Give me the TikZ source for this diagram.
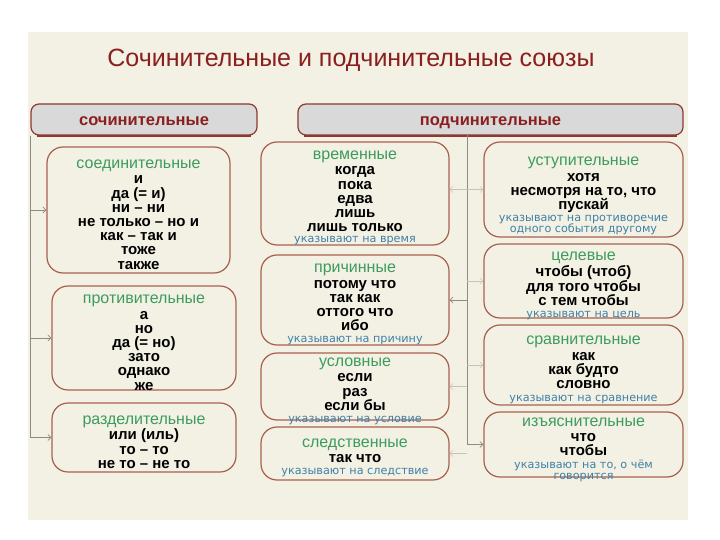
\documentclass[tikz,border=0pt]{standalone}
\usepackage{fontspec}
\setmainfont{Liberation Sans}
\newfontfamily\notefont{DejaVu Sans}
\usetikzlibrary{arrows.meta}
\definecolor{bgc}{HTML}{F3F1E3}
\definecolor{titlec}{HTML}{8B1E1E}
\definecolor{barfill}{HTML}{D9D9D9}
\definecolor{barline}{HTML}{8B3A32}
\definecolor{boxc}{HTML}{A8604E}
\definecolor{hgreen}{HTML}{3C9B5F}
\definecolor{nblue}{HTML}{3F80A8}
\definecolor{connc}{HTML}{8C8C84}
\definecolor{faintc}{HTML}{C4C4BC}
\newcommand\kindtxt[1]{{\color{hgreen}\mdseries\fontsize{16}{16}\selectfont #1}}
\newcommand\hinttxt[1]{{\color{nblue}\mdseries\notefont\fontsize{11.2}{11.2}\selectfont #1}}
\AtBeginDocument{\lineskiplimit=-20pt\relax}
\begin{document}
\begin{tikzpicture}[x=1pt,y=-1pt,
  bar/.style={draw=barline, line width=1.2pt, fill=barfill, rounded corners=8pt,
    minimum height=31pt, inner sep=0pt},
  bartext/.style={text=titlec, inner sep=0pt, text height=12pt, text depth=3.5pt,
    font=\bfseries\fontsize{16.5}{16.5}\selectfont},
  kbox/.style={draw=boxc, line width=1.2pt, fill=bgc, rounded corners=16pt, inner sep=0pt},
  ktext/.style={align=center, inner sep=0pt, font=\bfseries\fontsize{15}{14.2}\selectfont},
  conn/.style={draw=connc, line width=0.7pt},
  faint/.style={draw=faintc, line width=0.6pt},
  tip/.style={-{Straight Barb[length=3pt,width=6pt]}},
  tips/.style={{Straight Barb[length=3pt,width=6pt]}-{Straight Barb[length=3pt,width=6pt]}}]
\useasboundingbox (0,0) rectangle (720,540);
\fill[white] (0,0) rectangle (720,540);
\fill[bgc] (28,32) rectangle (688,520);

\node[text=titlec, font=\fontsize{25}{25}\selectfont] (title) at (351,60)
  {Сочинительные и подчинительные союзы};

% header bars
\node[bar, minimum width=226pt] (lbar) at (144,119.5) {};
\node[bar, minimum width=385pt] (rbar) at (490.5,119.5) {};
\draw[barline, line width=2pt] ([xshift=7pt]lbar.south west) -- ([xshift=-7pt]lbar.south east);
\draw[barline, line width=2pt] ([xshift=7pt]rbar.south west) -- ([xshift=-7pt]rbar.south east);
\node[bartext] (lbart) at ([yshift=-2pt]lbar.center) {сочинительные};
\node[bartext] (rbart) at ([yshift=-2pt]rbar.center) {подчинительные};

% boxes
\node[kbox, minimum width=183pt, minimum height=126pt] (soed) at (138.5,210) {};
\node[kbox, minimum width=184pt, minimum height=104pt] (protiv) at (144,338) {};
\node[kbox, minimum width=184pt, minimum height=69pt] (razdel) at (144,437.5) {};
\node[kbox, minimum width=188pt, minimum height=103pt] (vrem) at (355,193.5) {};
\node[kbox, minimum width=188pt, minimum height=90pt] (prich) at (355,300) {};
\node[kbox, minimum width=188pt, minimum height=67pt] (uslov) at (355,386.5) {};
\node[kbox, minimum width=188pt, minimum height=53pt] (sled) at (355,453.5) {};
\node[kbox, minimum width=199pt, minimum height=95pt] (ustup) at (583.5,189.5) {};
\node[kbox, minimum width=199pt, minimum height=74pt] (cel) at (583.5,281) {};
\node[kbox, minimum width=199pt, minimum height=80pt] (sravn) at (583.5,365) {};
\node[kbox, minimum width=199pt, minimum height=65pt] (izyas) at (583.5,444.5) {};

% box texts
\node[ktext] (soedt) at ([yshift=-4.5pt]soed.center)
  {\kindtxt{соединительные}\\[1.5pt] и\\ да (= и)\\ ни – ни\\ не только – но и\\ как – так и\\ тоже\\ также};
\node[ktext] (protivt) at ([yshift=-4.5pt]protiv.center)
  {\kindtxt{противительные}\\[1.5pt] а\\ но\\ да (= но)\\ зато\\ однако\\ же};
\node[ktext] (razdelt) at ([yshift=-4.5pt]razdel.center)
  {\kindtxt{разделительные}\\[1.5pt] или (иль)\\ то – то\\ не то – не то};
\node[ktext] (vremt) at ([yshift=-4.5pt]vrem.center)
  {\kindtxt{временные}\\[1.5pt] когда\\ пока\\ едва\\ лишь\\ лишь только\\[-3pt] \hinttxt{указывают на время}};
\node[ktext] (pricht) at ([yshift=-4.5pt]prich.center)
  {\kindtxt{причинные}\\[1.5pt] потому что\\ так как\\ оттого что\\ ибо\\[-2.5pt] \hinttxt{указывают на причину}};
\node[ktext] (uslovt) at ([yshift=-5pt]uslov.center)
  {\kindtxt{условные}\\[1pt] если\\ раз\\ если бы\\[-2pt] \hinttxt{указывают на условие}};
\node[ktext] (sledt) at ([yshift=-4.5pt]sled.center)
  {\kindtxt{следственные}\\[1pt] так что\\[-2pt] \hinttxt{указывают на следствие}};
\node[ktext] (ustupt) at ([yshift=-6.5pt]ustup.center)
  {\kindtxt{уступительные}\\[1.5pt] хотя\\ несмотря на то, что\\ пускай\\[-2pt] \hinttxt{указывают на противоречие}\\[-3pt] \hinttxt{одного события другому}};
\node[ktext] (celt) at ([yshift=-5pt]cel.center)
  {\kindtxt{целевые}\\[2pt] чтобы (чтоб)\\ для того чтобы\\ с тем чтобы\\[-2pt] \hinttxt{указывают на цель}};
\node[ktext] (sravnt) at ([yshift=-5pt]sravn.center)
  {\kindtxt{сравнительные}\\[1pt] как\\ как будто\\ словно\\[-1.5pt] \hinttxt{указывают на сравнение}};
\node[ktext] (izyast) at ([yshift=-5.5pt]izyas.center)
  {\kindtxt{изъяснительные}\\[0.5pt] что\\ чтобы\\[-1.5pt] \hinttxt{указывают на то, о чём}\\[-3pt] \hinttxt{говорится}};

% left connectors
\draw[conn, tip] (lbar.south west) |- (razdel.west);
\draw[conn, tip] (lbar.south west) |- (soed.west);
\draw[conn, tip] (lbar.south west) |- (protiv.west);

% right connectors
\coordinate (rtop) at (467,135);
\draw[conn, tip] (rtop) |- (izyas.west);
\draw[conn, tip] (rtop |- prich.east) -- (prich.east);
\draw[faint, tips] (vrem.east |- ustup.west) -- (ustup.west);
\draw[faint, tip] (rtop |- cel.west) -- (cel.west);
\draw[faint, tip] (rtop |- sravn.west) -- (sravn.west);
\draw[faint, tip] (rtop |- uslov.east) -- (uslov.east);
\draw[faint, tip] (rtop |- sled.east) -- (sled.east);
\end{tikzpicture}
\end{document}
